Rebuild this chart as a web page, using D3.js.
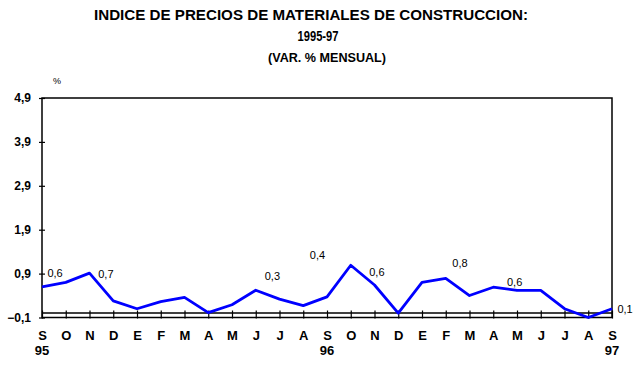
<!DOCTYPE html>
<html>
<head>
<meta charset="utf-8">
<script src="https://cdn.jsdelivr.net/npm/d3@7"></script>
<style>
  body { margin: 0; background: #fff; }
  text { font-family: "Liberation Sans", Arial, sans-serif; }
</style>
</head>
<body>
<div class="canvas"></div>
<script>
'use strict';
// months Sep 95 .. Sep 97
var months = ['S','O','N','D','E','F','M','A','M','J','J','A','S','O','N','D','E','F','M','A','M','J','J','A','S'];
var years = {0: '95', 12: '96', 24: '97'};
var values = [0.60, 0.70, 0.91, 0.28, 0.10, 0.26, 0.36, 0.01, 0.19, 0.52, 0.32, 0.17, 0.37,
              1.09, 0.64, 0.00, 0.70, 0.79, 0.40, 0.59, 0.52, 0.52, 0.10, -0.10, 0.10];
var yTicks = [-0.1, 0.9, 1.9, 2.9, 3.9, 4.9];
// annotation labels: text, position along months, value level
var noteText = ['0,6', '0,7', '0,3', '0,4', '0,6', '0,8', '0,6', '0,1'];
var noteIdx  = [0.55, 2.69, 9.7, 11.6, 14.1, 17.6, 19.9, 24.55];
var noteVal  = [0.91, 0.89, 0.84, 1.31, 0.94, 1.13, 0.71, 0.10];

var W = 641, H = 365;
var svg = d3.select('.canvas').append('svg').attr('width', W).attr('height', H);

var xScale = d3.scaleLinear().domain([0, months.length - 1]).range([42, 612]);
var yScale = d3.scaleLinear().domain([-0.1, 4.9]).range([317.5, 98]);

var fmt = function(v) { return d3.format('.1f')(v).replace('.', ','); };

// titles
svg.append('text').attr('x', 311).attr('y', 20).attr('text-anchor', 'middle')
    .attr('font-size', 14).attr('font-weight', 'bold')
    .attr('textLength', 434).attr('lengthAdjust', 'spacingAndGlyphs')
    .text('INDICE  DE PRECIOS DE MATERIALES DE CONSTRUCCION:');
svg.append('text').attr('x', 318).attr('y', 41).attr('text-anchor', 'middle')
    .attr('font-size', 14).attr('font-weight', 'bold')
    .attr('textLength', 41).attr('lengthAdjust', 'spacingAndGlyphs')
    .text('1995-97');
svg.append('text').attr('x', 327).attr('y', 62).attr('text-anchor', 'middle')
    .attr('font-size', 12).attr('font-weight', 'bold')
    .attr('textLength', 118).attr('lengthAdjust', 'spacingAndGlyphs')
    .text('(VAR. % MENSUAL)');
svg.append('text').attr('x', 57).attr('y', 84).attr('text-anchor', 'middle')
    .attr('font-size', 9).text('%');

// frame
var x0 = xScale.range()[0], x1 = xScale.range()[1];
var yTop = yScale(4.9), yBot = yScale(-0.1);
svg.append('path')
    .attr('d', 'M' + x0 + ',' + yBot + 'V' + yTop + 'H' + x1 + 'V' + yBot + 'Z')
    .attr('fill', 'none').attr('stroke', '#000').attr('stroke-width', 1.5);
// zero line
svg.append('line').attr('x1', x0).attr('x2', x1)
    .attr('y1', yScale(0)).attr('y2', yScale(0))
    .attr('stroke', '#000').attr('stroke-width', 1.5);

// y axis
var yAxis = d3.axisLeft(yScale).tickValues(yTicks).tickFormat(fmt)
    .tickSizeInner(3).tickSizeOuter(0).tickPadding(8);
var gy = svg.append('g').attr('transform', 'translate(' + x0 + ',0)').call(yAxis);
gy.select('.domain').remove();
gy.selectAll('.tick line').attr('x1', 3).attr('x2', -3).attr('stroke-width', 1.2);
gy.selectAll('.tick text').attr('font-size', 12).attr('font-weight', 'bold')
    .attr('font-family', '"Liberation Sans", Arial, sans-serif');

// x axis
var xAxis = d3.axisBottom(xScale).tickValues(d3.range(months.length))
    .tickFormat(function(i) { return months[i]; })
    .tickSizeInner(3).tickSizeOuter(0).tickPadding(10);
var gx = svg.append('g').attr('transform', 'translate(0,' + yBot + ')').call(xAxis);
gx.select('.domain').remove();
gx.selectAll('.tick line').attr('y1', -7).attr('y2', 1).attr('stroke-width', 1.2);
gx.selectAll('.tick text').attr('font-size', 13).attr('font-weight', 'bold')
    .attr('font-family', '"Liberation Sans", Arial, sans-serif');

Object.keys(years).forEach(function(k) {
    svg.append('text').attr('x', xScale(+k)).attr('y', 355).attr('text-anchor', 'middle')
        .attr('font-size', 13).attr('font-weight', 'bold').text(years[k]);
});

// series line
var line = d3.line().x(function(d, i) { return xScale(i); }).y(function(d) { return yScale(d); });
svg.append('path').datum(values).attr('d', line)
    .attr('fill', 'none').attr('stroke', '#0000ff').attr('stroke-width', 2.8)
    .attr('stroke-linejoin', 'round');

// annotations
noteText.forEach(function(t, i) {
    svg.append('text').attr('x', xScale(noteIdx[i])).attr('y', yScale(noteVal[i]))
        .attr('dy', '0.35em').attr('text-anchor', 'middle').attr('font-size', 11)
        .text(t);
});
</script>
</body>
</html>
